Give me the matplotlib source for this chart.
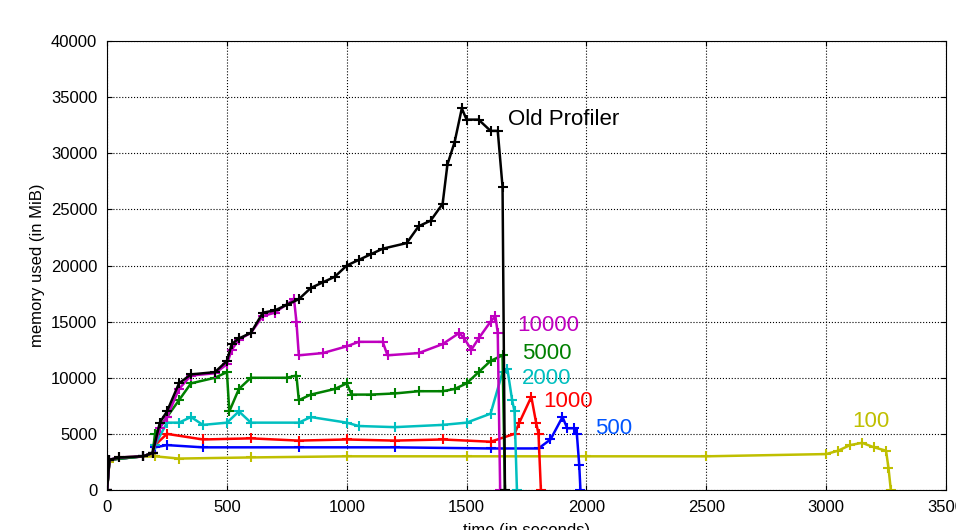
import matplotlib
matplotlib.use("Agg")
import matplotlib.pyplot as plt

plt.rcParams['font.family'] = ['Liberation Sans', 'DejaVu Sans']

old_x = [0,10,50,150,190,220,250,300,350,450,500,520,550,600,650,700,750,800,850,900,950,1000,1050,1100,1150,1250,1300,1350,1400,1420,1450,1480,1500,1550,1600,1630,1650,1660]
old_y = [0,2700,2900,3000,3300,6000,7000,9500,10300,10500,11500,13000,13500,14000,15800,16000,16500,17000,18000,18500,19000,20000,20500,21000,21500,22000,23500,24000,25500,29000,31000,34000,33000,33000,32000,32000,27000,0]
m_x = [0,10,50,150,190,220,250,300,350,450,500,520,550,600,650,700,780,790,800,900,1000,1050,1150,1170,1300,1400,1470,1490,1520,1550,1600,1620,1630,1640]
m_y = [0,2700,2900,3000,3300,5500,6500,9000,10200,10400,11200,12500,13400,14000,15500,15800,17000,15000,12000,12200,12800,13200,13200,12000,12200,13000,14000,13500,12500,13500,15000,15500,14000,0]
g_x = [0,10,150,190,200,250,300,350,450,500,510,550,600,750,790,800,850,950,1000,1020,1100,1200,1300,1400,1450,1500,1550,1600,1650,1660]
g_y = [0,2700,3000,3300,5000,6500,8000,9500,10000,10500,7000,9000,10000,10000,10200,8000,8500,9000,9500,8500,8500,8600,8800,8800,9000,9500,10500,11500,12000,0]
c_x = [0,10,150,190,200,250,300,350,400,500,550,600,800,850,1000,1050,1200,1400,1500,1600,1650,1670,1690,1700,1710]
c_y = [0,2700,3000,3300,4000,6000,6000,6500,5800,6000,7000,6000,6000,6500,6000,5700,5600,5800,6000,6800,10500,10800,8000,7000,0]
r_x = [0,10,150,190,200,250,400,600,800,1000,1200,1400,1600,1700,1720,1770,1790,1800,1810]
r_y = [0,2700,3000,3300,4000,5000,4500,4600,4400,4500,4400,4500,4300,5000,6000,8300,6000,5000,0]
b_x = [0,10,150,190,200,250,400,800,1200,1600,1800,1850,1900,1920,1950,1960,1970,1975]
b_y = [0,2700,3000,3300,3800,4000,3800,3800,3800,3700,3700,4500,6500,5500,5500,5000,2200,0]
y_x = [0,10,50,200,300,600,1000,1500,2000,2500,3000,3050,3100,3150,3200,3250,3260,3270]
y_y = [0,2500,2900,3000,2800,2900,3000,3000,3000,3000,3200,3500,4000,4200,3800,3500,2000,0]

series = [
    (y_x, y_y, 'y', '100', 3108, 6060),
    (b_x, b_y, 'b', '500', 2036, 5520),
    (r_x, r_y, 'r', '1000', 1819, 7840),
    (c_x, c_y, 'c', '2000', 1731, 9900),
    (g_x, g_y, 'g', '5000', 1731, 12200),
    (m_x, m_y, 'm', '10000', 1710, 14700),
    (old_x, old_y, 'k', 'Old Profiler', 1673, 33050),
]
label_colors = {'y': '#bfbf00', 'b': '#0055ff', 'r': 'r', 'c': 'c', 'g': 'g', 'm': '#bf00bf', 'k': 'k'}

fig = plt.figure(figsize=(9.56, 5.3), dpi=100)
ax = fig.add_axes([0.112, 0.0755, 0.8775, 0.847])
for xs, ys, col, lab, tx, ty in series:
    ax.plot(xs, ys, color=col, marker='+', markersize=7, markeredgewidth=1.5, linewidth=1.8)
    ax.text(tx, ty, lab, color=label_colors[col], fontsize=16, va='center', ha='left')

ax.set_xlim(0, 3500)
ax.set_ylim(0, 40000)
ax.set_xticks(range(0, 3501, 500))
ax.set_yticks(range(0, 40001, 5000))
ax.grid(True, color='k', linestyle=':', linewidth=0.8)
ax.tick_params(direction='in', labelsize=12, top=True, right=True, pad=7)
ax.set_xlabel('time (in seconds)', fontsize=12, labelpad=6)
ax.set_ylabel('memory used (in MiB)', fontsize=12)
fig.savefig('out.png', dpi=100)
